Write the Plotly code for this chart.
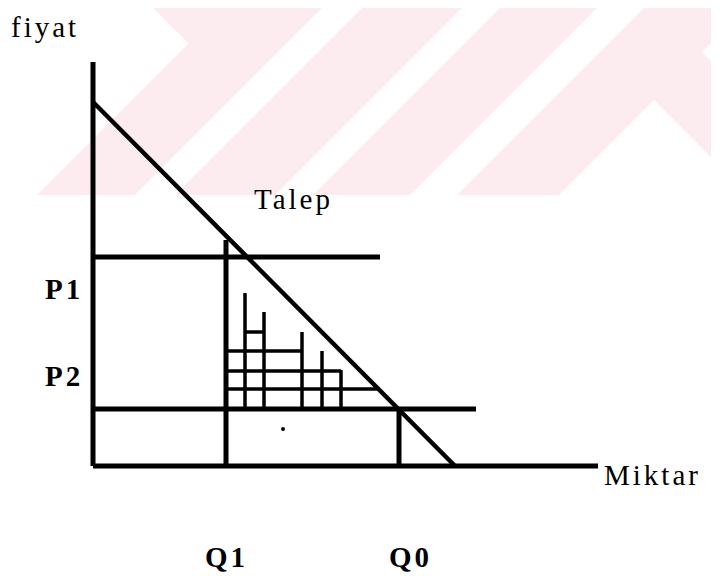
import plotly.graph_objects as go

# diagram values (quantity on x, price on y)
axis_top = 40.4
axis_end = 50.5
demand_q = [0, 36.2]
demand_p = [36.4, 0]
p1, p1_end = 20.9, 28.7
p2, p2_end = 5.7, 38.3
q1, q1_top = 13.3, 22.6
q0 = 30.6

# staircase under the demand curve
step_x = [15.2, 17.1, 20.9, 22.9, 24.8]
step_top = [17.3, 15.4, 13.4, 11.5, 9.6]
rung_y = [13.4, 11.5, 9.5, 7.7]
rung_x0 = [15.2, 13.3, 13.3, 13.3]
rung_x1 = [17.1, 20.9, 24.8, 28.4]
dot = (19.0, 3.7)

labels = ["fiyat", "Talep", "P1", "P2", "Q1", "Q0", "Miktar"]

# page body has an 8px margin, so the figure is a bit smaller than the window
OFF = 8
W, H = 719 - OFF, 576 - OFF


def segs(pairs):
    xs, ys = [], []
    for (xa, ya), (xb, yb) in pairs:
        xs += [xa, xb, None]
        ys += [ya, yb, None]
    return xs, ys


fig = go.Figure()

# axes
ax_x, ax_y = segs([((0, axis_top), (0, 0)), ((0, 0), (axis_end, 0))])
fig.add_trace(go.Scatter(x=ax_x, y=ax_y, mode='lines', line=dict(color='black', width=5)))

# demand
fig.add_trace(go.Scatter(x=demand_q, y=demand_p, mode='lines', line=dict(color='black', width=4.5)))

# price / quantity lines
main_x, main_y = segs([((0, p1), (p1_end, p1)), ((0, p2), (p2_end, p2)),
                       ((q1, 0), (q1, q1_top)), ((q0, 0), (q0, p2))])
fig.add_trace(go.Scatter(x=main_x, y=main_y, mode='lines', line=dict(color='black', width=5)))

# staircase
pairs = [((x, p2), (x, t)) for x, t in zip(step_x, step_top)]
pairs += [((a, y), (b, y)) for y, a, b in zip(rung_y, rung_x0, rung_x1)]
st_x, st_y = segs(pairs)
fig.add_trace(go.Scatter(x=st_x, y=st_y, mode='lines', line=dict(color='black', width=3.5)))

fig.add_trace(go.Scatter(x=[dot[0]], y=[dot[1]], mode='markers',
                         marker=dict(color='black', size=4)))

# watermark (window pixel coords -> paper)
def path(pts):
    return 'M ' + ' L '.join(f'{(x - OFF) / W:.4f},{1 - (y - OFF) / H:.4f}' for x, y in pts) + ' Z'


pink = [(145, 0), (730, 0), (730, 24), (702, 52), (730, 80), (730, 176),
        (654, 100), (559, 195), (37, 195), (188.5, 43.5)]
shapes = [dict(type='path', path=path(pink), xref='paper', yref='paper',
               fillcolor='#fdecef', line=dict(width=0), layer='below')]
for a, b in [(330, 370), (470, 508), (605, 652)]:
    band = [(a, 0), (b, 0), (b - 195, 195), (a - 195, 195)]
    shapes.append(dict(type='path', path=path(band), xref='paper', yref='paper',
                       fillcolor='white', line=dict(width=0), layer='below'))

# text labels
pos = [(-8.4, 45.75), (15.9, 26.7), (-5.0, 17.7), (-5.0, 9.0), (11.0, -9.1), (29.4, -9.1), (50.9, -0.9)]
anchor = ['top', 'middle', 'middle', 'middle', 'middle', 'middle', 'middle']
bold = [False, False, True, True, True, True, False]
annotations = []
for text, (x, y), va, b in zip(labels, pos, anchor, bold):
    t = f'<span style="letter-spacing:3px">{text}</span>'
    if b:
        t = '<b>' + t + '</b>'
    annotations.append(dict(x=x, y=y, text=t, showarrow=False, xanchor='left', yanchor=va,
                            font=dict(family='Liberation Serif', size=29, color='black')))

fig.update_layout(
    width=W, height=H,
    margin=dict(l=0, r=0, t=0, b=0),
    paper_bgcolor='white', plot_bgcolor='white',
    showlegend=False,
    xaxis=dict(visible=False, range=[(OFF - 93) / 10, (OFF - 93) / 10 + W / 10]),
    yaxis=dict(visible=False, range=[(466 - 576) / 10, (466 - OFF) / 10]),
    shapes=shapes,
    annotations=annotations,
)

fig.write_html("out.html")
